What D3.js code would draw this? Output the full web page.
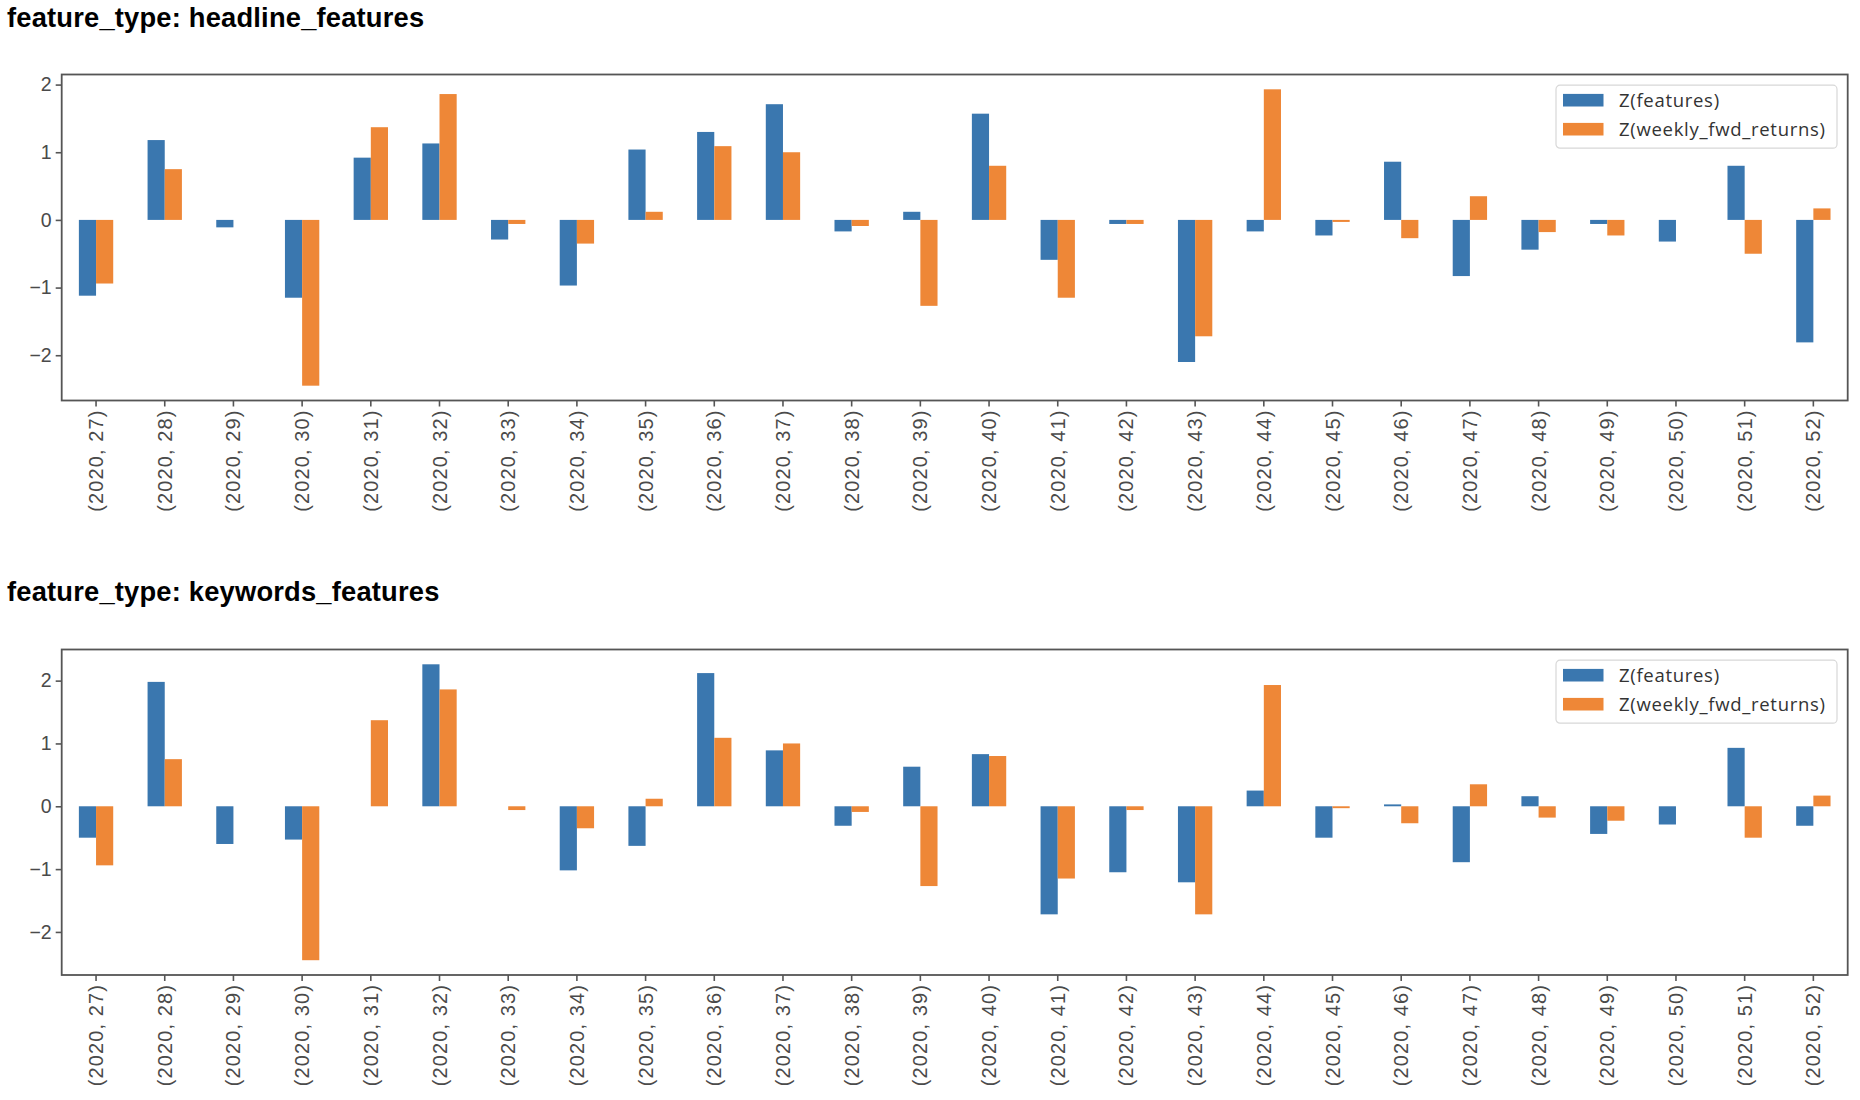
<!DOCTYPE html>
<html>
<head>
<meta charset="utf-8">
<script src="https://cdn.jsdelivr.net/npm/d3@7"></script>
<style>
  html, body { margin: 0; padding: 0; background: #fff; }
  svg { display: block; }
</style>
</head>
<body>
<svg id="chart" width="1860" height="1100"></svg>
<script>
// ---------------- DATA ----------------
const weeks = [27, 28, 29, 30, 31, 32, 33, 34, 35, 36, 37, 38, 39, 40, 41, 42, 43, 44, 45, 46, 47, 48, 49, 50, 51, 52];
const categories = weeks.map(w => `(2020, ${w})`);
const seriesNames = ["Z(features)", "Z(weekly_fwd_returns)"];
const panelTitles = ["feature_type: headline_features", "feature_type: keywords_features"];

const weeklyFwdReturnsZ = [-0.94, 0.75, 0.00, -2.45, 1.37, 1.86, -0.06, -0.35, 0.12, 1.09, 1.00, -0.09, -1.27,
                           0.80, -1.15, -0.06, -1.72, 1.93, -0.03, -0.27, 0.35, -0.18, -0.23, 0.00, -0.50, 0.17];
const headlineFeaturesZ = [-1.12, 1.18, -0.11, -1.15, 0.92, 1.13, -0.29, -0.97, 1.04, 1.30, 1.71, -0.17, 0.12,
                           1.57, -0.59, -0.06, -2.10, -0.17, -0.23, 0.86, -0.83, -0.44, -0.06, -0.32, 0.80, -1.81];
const keywordsFeaturesZ = [-0.50, 1.98, -0.60, -0.53, 0.00, 2.26, 0.00, -1.02, -0.63, 2.12, 0.89, -0.31, 0.63,
                           0.83, -1.72, -1.05, -1.21, 0.25, -0.50, 0.03, -0.89, 0.16, -0.44, -0.29, 0.93, -0.31];
const yTickValues = [-2, -1, 0, 1, 2];

// ---------------- STYLE ----------------
const colors = ["#3a77af", "#ee8737"];
const spineColor = "#555";
const tickTextColor = "#4a4a4a";

const svg = d3.select("#chart");

const panels = [
  { title: panelTitles[0], feat: headlineFeaturesZ, titleY: 27, top: 74.5, bottom: 400.5 },
  { title: panelTitles[1], feat: keywordsFeaturesZ, titleY: 601, top: 649.5, bottom: 975 }
];
const left = 61.7, right = 1847.7;

function fmt(v) { return v < 0 ? "\u2212" + Math.abs(v) : String(v); }

panels.forEach(p => {
  const rows = categories.map((c, i) => ({ cat: c, vals: [p.feat[i], weeklyFwdReturnsZ[i]] }));

  // title
  svg.append("text")
    .attr("x", 7).attr("y", p.titleY)
    .attr("font-family", "Liberation Sans, Arial, sans-serif")
    .attr("font-weight", "bold")
    .attr("font-size", 27.3)
    .attr("letter-spacing", 0.2)
    .attr("fill", "#000")
    .text(p.title);

  const x = d3.scaleBand().domain(categories).range([left, right]).paddingInner(0).paddingOuter(0);
  const bw = x.bandwidth();
  const xs = d3.scaleBand().domain(seriesNames).range([bw * 0.25, bw * 0.75]).padding(0);

  const allVals = p.feat.concat(weeklyFwdReturnsZ, [0]);
  const mn = d3.min(allVals), mx = d3.max(allVals);
  const m = (mx - mn) * 0.05;
  const y = d3.scaleLinear().domain([mn - m, mx + m]).range([p.bottom, p.top]);

  const g = svg.append("g");

  // bars
  const groups = g.selectAll("g.cat").data(rows).join("g")
    .attr("transform", d => `translate(${x(d.cat)},0)`);
  groups.selectAll("rect").data(d => d.vals.map((v, k) => ({ v, k })))
    .join("rect")
    .attr("x", d => xs(seriesNames[d.k]))
    .attr("width", xs.bandwidth())
    .attr("y", d => y(Math.max(0, d.v)))
    .attr("height", d => Math.abs(y(d.v) - y(0)))
    .attr("fill", d => colors[d.k]);

  // axes
  const xAxis = d3.axisBottom(x).tickSize(6).tickPadding(3);
  const gx = g.append("g").attr("transform", `translate(0,${p.bottom})`).call(xAxis);
  gx.select(".domain").remove();
  gx.selectAll(".tick line").attr("stroke", spineColor).attr("stroke-width", 1.6);
  gx.selectAll(".tick text")
    .attr("font-family", "Liberation Sans, Arial, sans-serif")
    .attr("font-size", 20)
    .attr("letter-spacing", 1.1)
    .attr("fill", tickTextColor)
    .attr("transform", "rotate(-90)")
    .attr("text-anchor", "end")
    .attr("dy", "0.35em")
    .attr("x", -9)
    .attr("y", 0);

  const yAxis = d3.axisLeft(y).tickValues(yTickValues).tickFormat(fmt).tickSize(6).tickPadding(4);
  const gy = g.append("g").attr("transform", `translate(${left},0)`).call(yAxis);
  gy.select(".domain").remove();
  gy.selectAll(".tick line").attr("stroke", spineColor).attr("stroke-width", 1.6);
  gy.selectAll(".tick text")
    .attr("font-family", "Liberation Sans, Arial, sans-serif")
    .attr("font-size", 19.5)
    .attr("fill", tickTextColor);

  // frame
  g.append("rect")
    .attr("x", left).attr("y", p.top)
    .attr("width", right - left).attr("height", p.bottom - p.top)
    .attr("fill", "none").attr("stroke", spineColor).attr("stroke-width", 1.8);

  // legend
  const lx = 1556, ly = p.top + 10.7, lw = 281, lh = 63;
  const lg = g.append("g").attr("transform", `translate(${lx},${ly})`);
  lg.append("rect").attr("width", lw).attr("height", lh).attr("rx", 4)
    .attr("fill", "#fff").attr("fill-opacity", 0.85)
    .attr("stroke", "#d8d8d8").attr("stroke-width", 1.2);
  seriesNames.forEach((s, k) => {
    const cy = 15 + k * 29;
    lg.append("rect").attr("x", 7).attr("y", cy - 6.3).attr("width", 40.5).attr("height", 12.6).attr("fill", colors[k]);
    lg.append("text").attr("x", 63).attr("y", cy).attr("dy", "0.35em")
      .attr("font-family", "Open Sans, DejaVu Sans, sans-serif")
      .attr("font-size", 18.5)
      .attr("letter-spacing", 0.7)
      .attr("fill", "#333")
      .text(s);
  });
});
</script>
</body>
</html>
